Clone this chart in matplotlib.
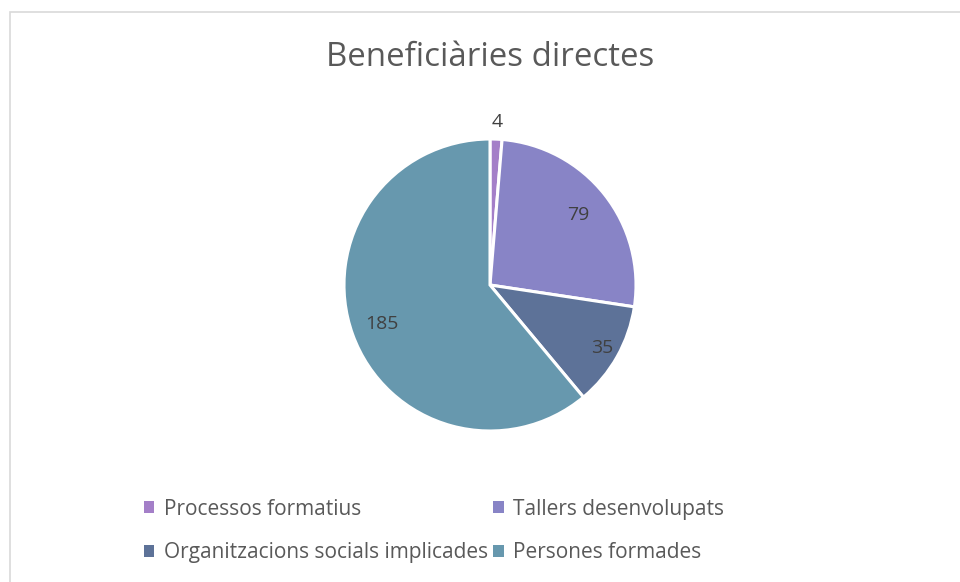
import numpy as np
import matplotlib.pyplot as plt
from matplotlib.patches import Rectangle

categories = ["Processos formatius", "Tallers desenvolupats",
              "Organitzacions socials implicades", "Persones formades"]
values = [4, 79, 35, 185]
colors = ["#A47FC8", "#8884C6", "#5D7298", "#6798AE"]
label_dist = [1.12, 0.77, 0.88, 0.79]

plt.rcParams['font.family'] = ['Open Sans', 'DejaVu Sans']

fig = plt.figure(figsize=(9.6, 5.82), dpi=100)

# chart frame
fig.patches.append(Rectangle((10 / 960, -0.01), 1.0, 1 - 12 / 582 + 0.01,
                             transform=fig.transFigure, fill=False,
                             edgecolor="#D9D9D9", linewidth=1.2))

cx, cy, r = 490, 285, 146
ax = fig.add_axes([(cx - r) / 960, (582 - cy - r) / 582, 2 * r / 960, 2 * r / 582])
wedges, _ = ax.pie(values, colors=colors, startangle=90, counterclock=False,
                   wedgeprops=dict(edgecolor="white", linewidth=2.2))
ax.set_xlim(-1, 1)
ax.set_ylim(-1, 1)
ax.set_aspect("equal")

for w, v, d in zip(wedges, values, label_dist):
    ang = np.deg2rad((w.theta1 + w.theta2) / 2)
    ax.text(d * np.cos(ang), d * np.sin(ang), str(v), ha="center", va="center",
            fontsize=14, color="#404040")

fig.text(490 / 960, 1 - 57 / 582, "Beneficiàries directes", ha="center", va="center",
         fontsize=23.8, color="#595959")

# legend filled row by row
order = [0, 2, 1, 3]
handles = [Rectangle((0, 0), 1, 1, facecolor=colors[i]) for i in order]
labels = [categories[i] for i in order]
fig.legend(handles, labels, loc="center", bbox_to_anchor=(434 / 960, 1 - 531 / 582),
           ncol=2, frameon=False, fontsize=15, handlelength=0.5, handleheight=0.5,
           handletextpad=0.45, columnspacing=0.25, labelspacing=1.1, labelcolor="#595959")

fig.savefig("out.png", dpi=100)
